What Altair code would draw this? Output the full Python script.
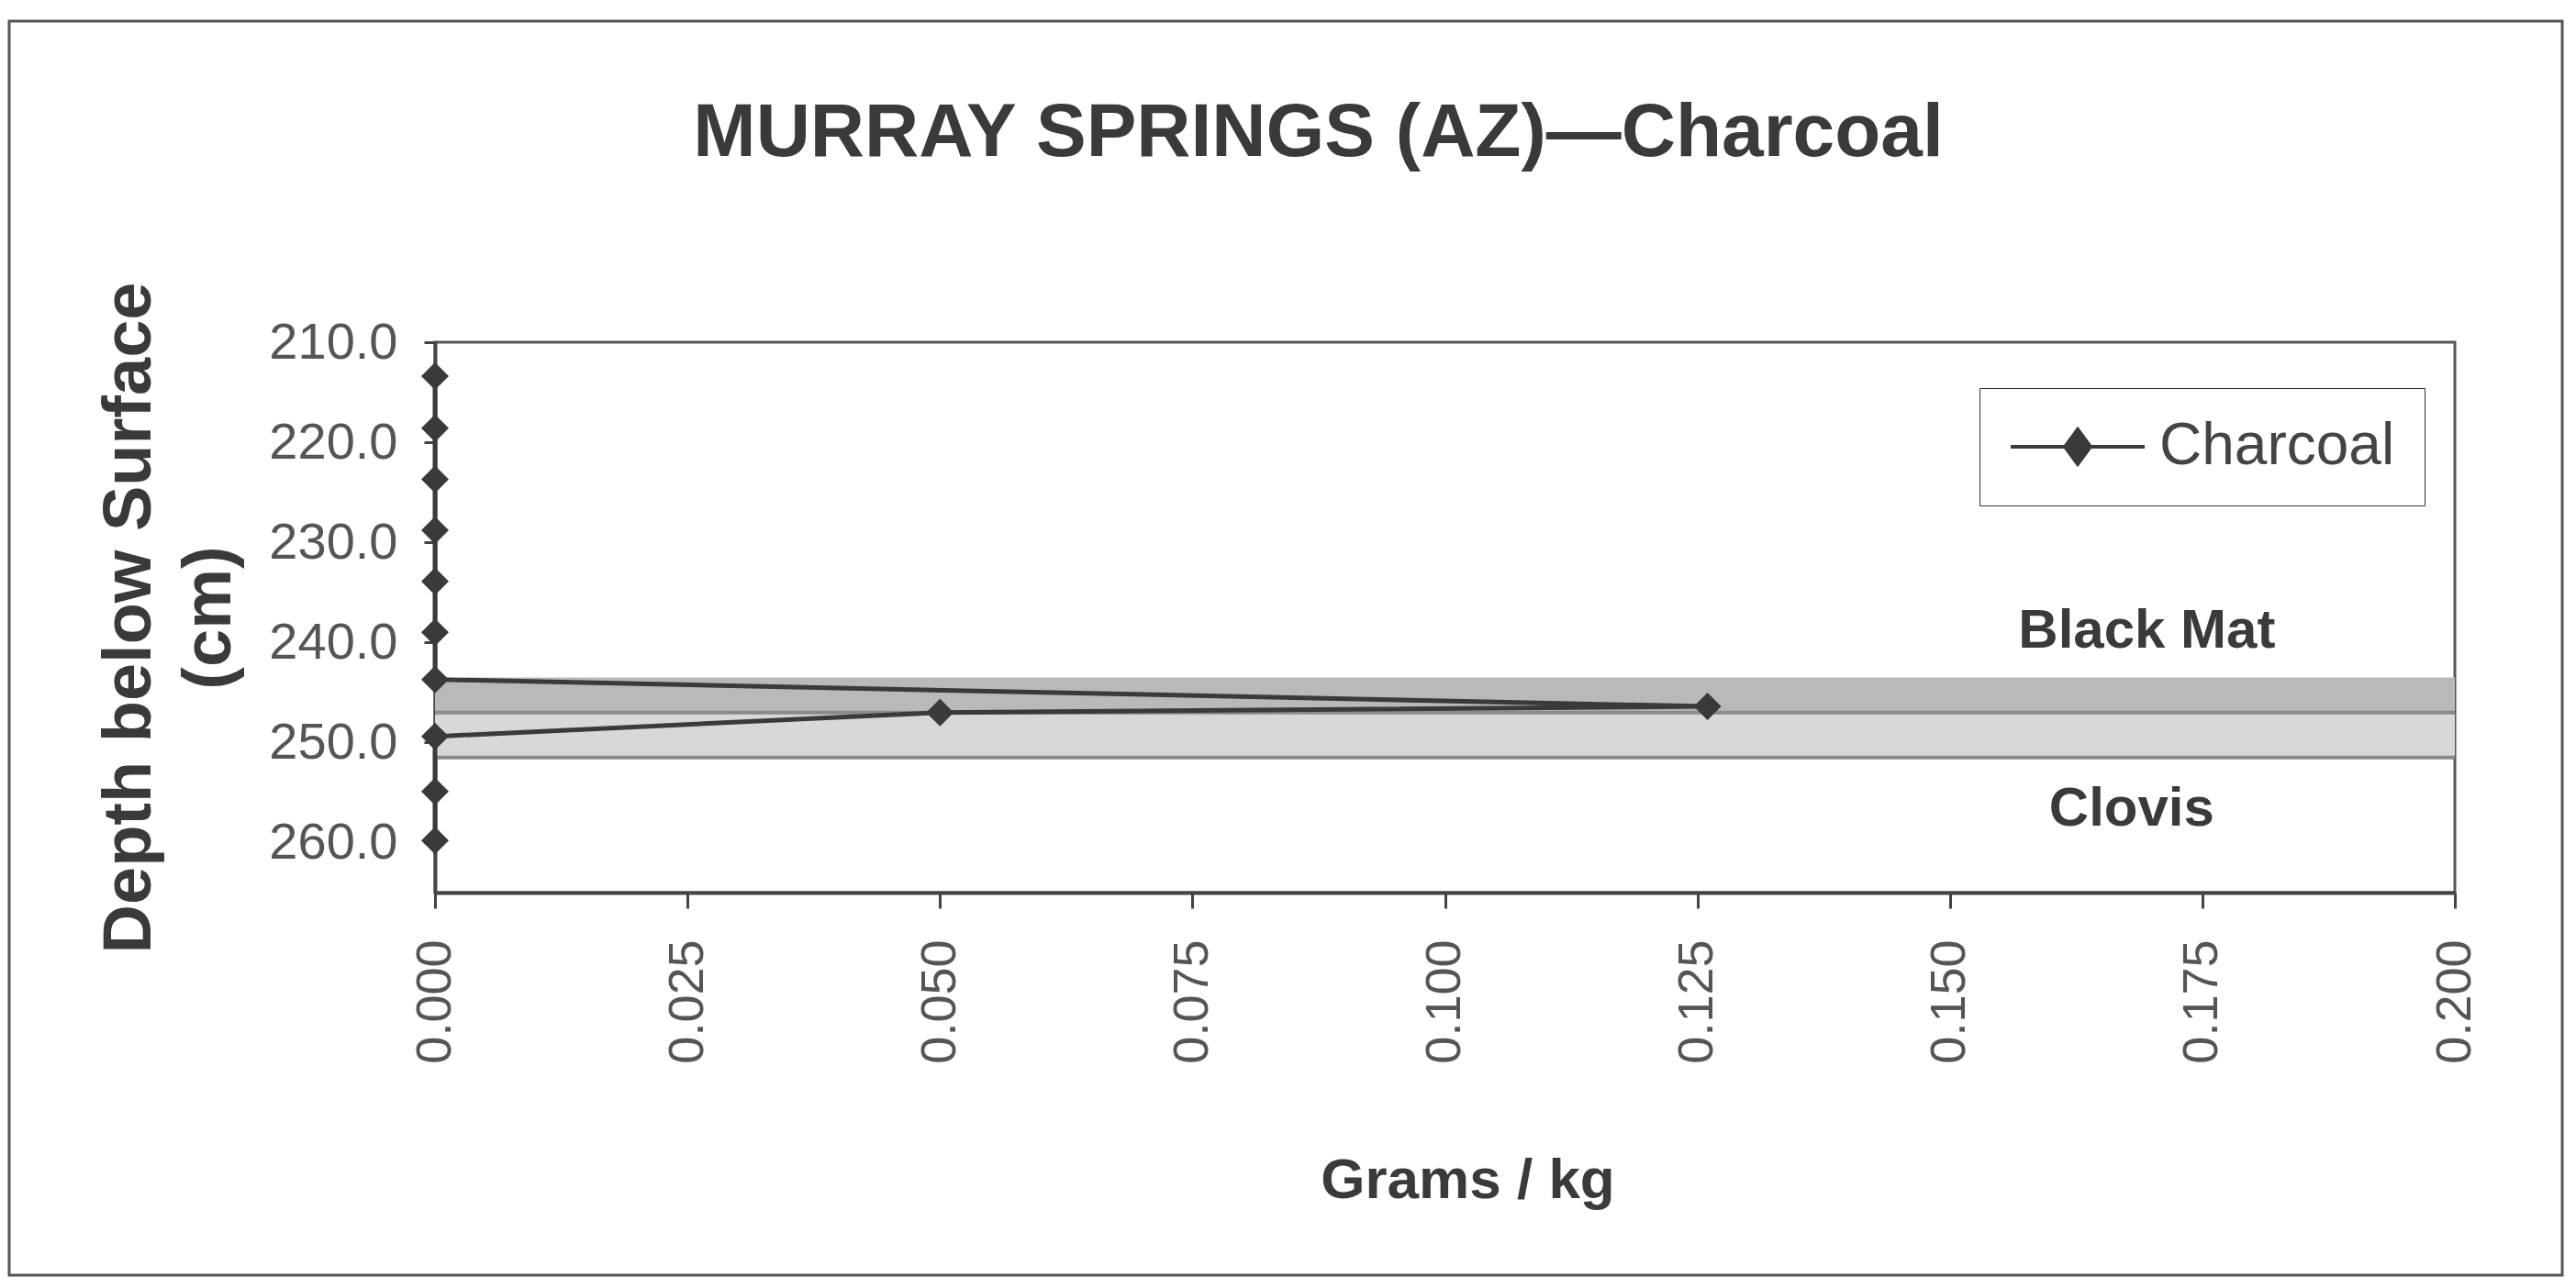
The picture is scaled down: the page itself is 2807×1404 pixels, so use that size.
import altair as alt
import pandas as pd

# ---- data ----
depth = [213.4, 218.6, 223.7, 228.8, 233.9, 239.0, 243.7, 246.4, 247.0, 249.4, 254.9, 259.8]
charcoal = [0.0, 0.0, 0.0, 0.0, 0.0, 0.0, 0.0, 0.126, 0.050, 0.0, 0.0, 0.0]
series_name = "Charcoal"

band_names = ["Black Mat", "Clovis"]
band_top = [243.5, 247.0]
band_bottom = [247.0, 251.5]

layer_labels = ["Black Mat", "Clovis"]
label_x = [0.1695, 0.168]
label_depth = [238.9, 256.7]

x_ticks = [0.0, 0.025, 0.05, 0.075, 0.1, 0.125, 0.15, 0.175, 0.2]
y_ticks = [210, 220, 230, 240, 250, 260]

title_text = "MURRAY SPRINGS (AZ)\u2014Charcoal"

# ---- tables ----
df = pd.DataFrame({"depth": depth, "grams": charcoal, "series": [series_name] * len(depth),
                   "idx": list(range(len(depth)))})
bands = pd.DataFrame({"band": band_names, "top": band_top, "bottom": band_bottom})
labels = pd.DataFrame({"label": layer_labels, "x": label_x, "depth": label_depth})
frame = pd.DataFrame({"k": [0]})

FONT = "Liberation Sans, Arial, sans-serif"
DARK = "#3a3a3a"

xscale = alt.Scale(domain=[0, 0.2], nice=False, zero=False)
yscale = alt.Scale(domain=[210, 265], nice=False, zero=False, reverse=True)

xaxis = alt.Axis(values=x_ticks, format=".3f", labelAngle=270, labelAlign="right",
                 labelBaseline="middle", labelFontSize=54, labelColor="#555555",
                 labelPadding=34, labelFlush=False, tickSize=17, tickWidth=3,
                 tickColor="#444444", domainColor="#444444", domainWidth=4, grid=False,
                 title="Grams / kg", titleFontSize=62, titleFontWeight="bold",
                 titleColor=DARK, titleX=1125, titleY=332, titleAlign="center",
                 titleBaseline="alphabetic")
yaxis = alt.Axis(values=y_ticks, format=".1f", labelFontSize=56, labelColor="#555555",
                 labelPadding=29, labelFlush=False, tickSize=12, tickWidth=3,
                 tickColor="#444444", domainColor="#444444", domainWidth=4, grid=False,
                 title=["Depth below Surface", "(cm)"], titleFontSize=74,
                 titleFontWeight="bold", titleColor=DARK, titleAngle=270,
                 titleX=-369, titleY=300, titleAlign="center", titleBaseline="top",
                 titleLineHeight=87)

X = lambda f: alt.X(f, scale=xscale, axis=xaxis)
Y = lambda f: alt.Y(f, scale=yscale, axis=yaxis)

outer = alt.Chart(frame).mark_rect(fill="transparent", stroke="#555555", strokeWidth=3).encode(
    x=alt.value(-464), x2=alt.value(2318), y=alt.value(-350), y2=alt.value(1017))

band_rect = alt.Chart(bands).mark_rect().encode(
    x=alt.value(0), x2=alt.value("width"),
    y=Y("top:Q"), y2="bottom:Q",
    fill=alt.Fill("band:N", scale=alt.Scale(domain=band_names, range=["#b9b9b9", "#d8d8d8"]),
                  legend=None))

band_rule = alt.Chart(bands).mark_rule(color="#8a8a8a", strokeWidth=4).encode(
    x=alt.value(0), x2=alt.value("width"), y=Y("bottom:Q"))

line = alt.Chart(df).mark_line(color=DARK, strokeWidth=5).encode(
    x=X("grams:Q"), y=Y("depth:Q"), order="idx:Q")

legend_path = "M-1,0L1,0M0,-0.26L0.19,0L0,0.26L-0.19,0Z"
points = alt.Chart(df).mark_point(shape="diamond", filled=True, size=900, opacity=1).encode(
    x=X("grams:Q"), y=Y("depth:Q"),
    color=alt.Color("series:N", scale=alt.Scale(domain=[series_name], range=[DARK]),
                    legend=alt.Legend(title=None, orient="none", legendX=1683, legendY=50,
                                      padding=32, strokeColor="#333333", fillColor="white",
                                      symbolType=legend_path, symbolSize=21316,
                                      symbolStrokeWidth=4, symbolStrokeColor=DARK,
                                      symbolFillColor=DARK, clipHeight=64,
                                      labelFontSize=64, labelColor="#444444",
                                      labelFont=FONT, labelOffset=14, labelLimit=600)))

texts = alt.Chart(labels).mark_text(fontSize=60, fontWeight="bold", color=DARK, font=FONT,
                                    align="center", baseline="middle").encode(
    x=X("x:Q"), y=Y("depth:Q"), text="label:N")

chart = alt.layer(outer, band_rect, band_rule, line, points, texts).properties(
    width=2201, height=600,
    autosize=alt.AutoSizeParams(type="none"),
    padding={"left": 466, "top": 365, "right": 120, "bottom": 420},
    title=alt.TitleParams(title_text, fontSize=82, font=FONT, fontWeight="bold", color=DARK,
                          anchor="middle", dx=-138, baseline="alphabetic", offset=-230),
).configure(font=FONT, background="white").configure_view(stroke="#555555", strokeWidth=3)

chart.save("out.html", embed_options={"renderer": "svg", "actions": False})
